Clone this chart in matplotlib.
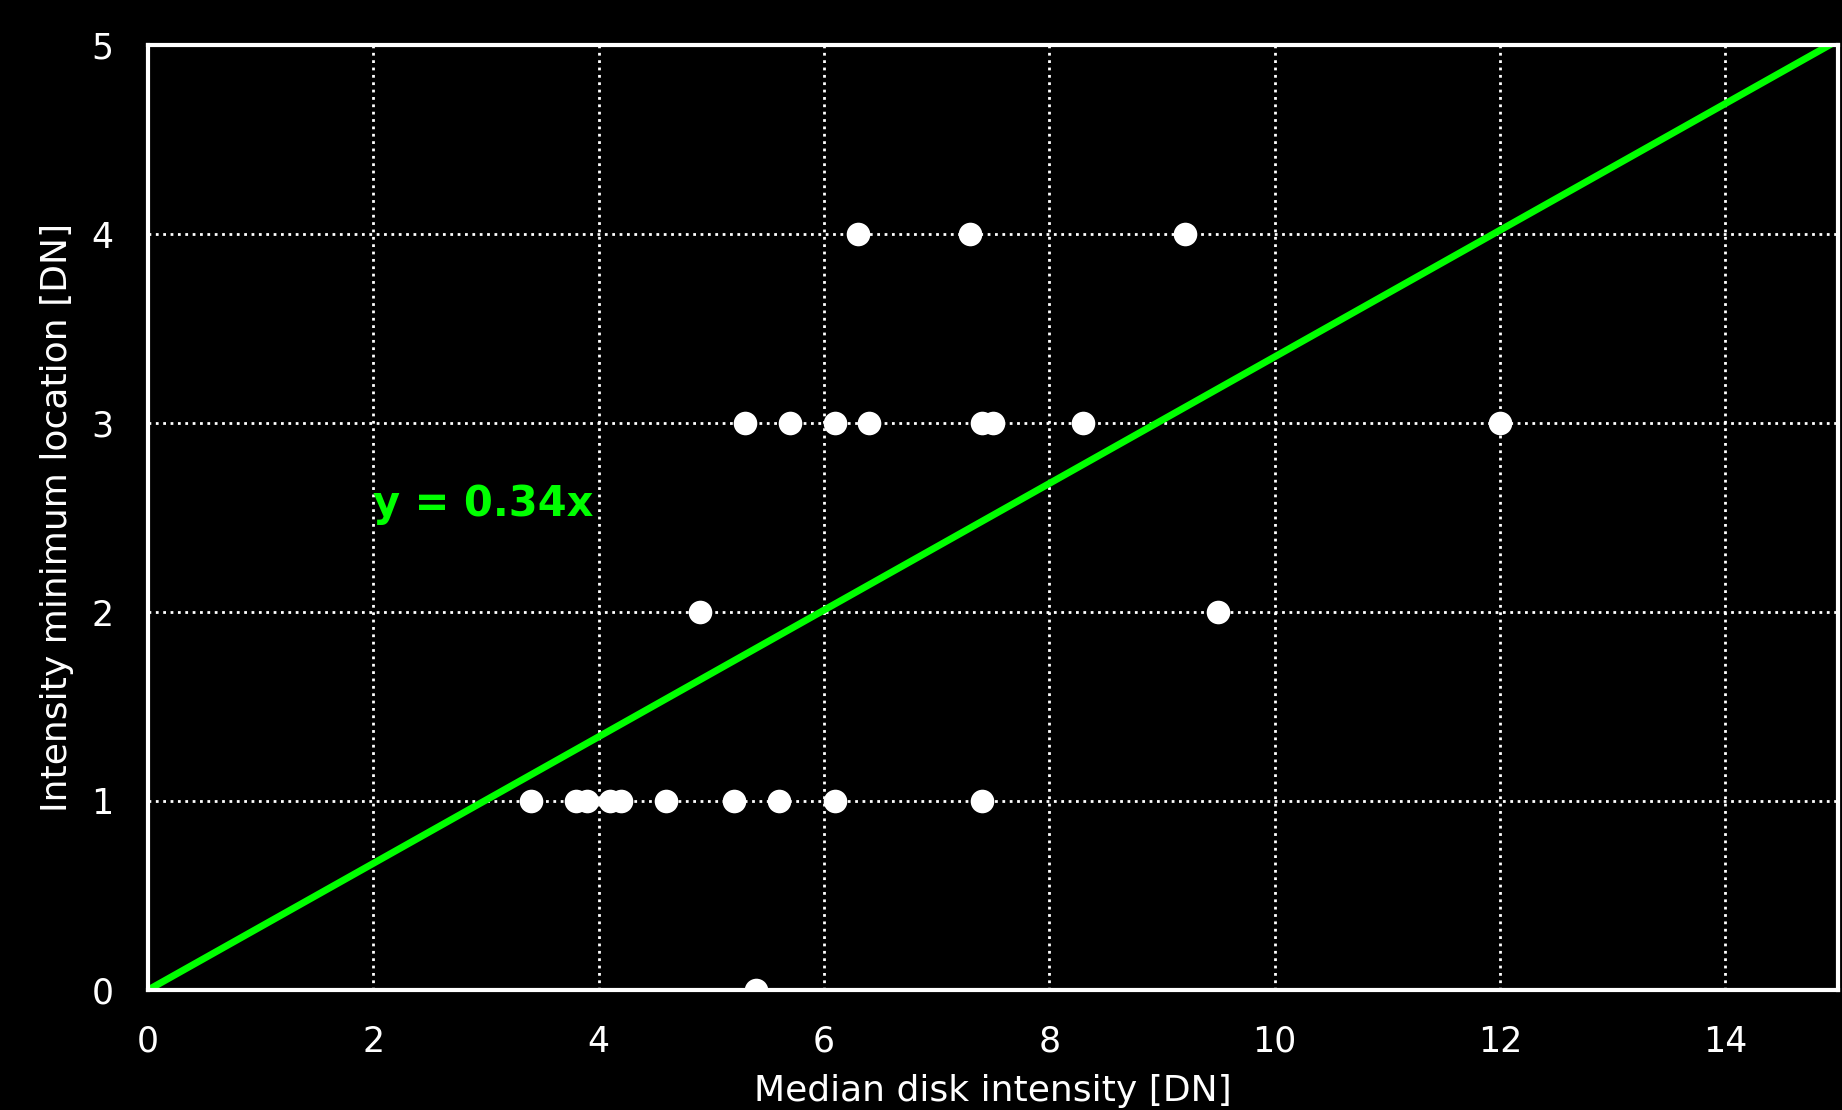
import numpy as np
import matplotlib
matplotlib.use("Agg")
import matplotlib.pyplot as plt

# median disk intensity vs intensity minimum location
x_vals = [3.4, 3.8, 3.9, 4.1, 4.2, 4.6, 5.2, 5.6, 6.1, 7.4,
          5.4,
          4.9, 9.5,
          5.3, 5.7, 6.1, 6.4, 7.4, 7.5, 8.3, 12.0,
          6.3, 7.3, 9.2]
y_vals = [1, 1, 1, 1, 1, 1, 1, 1, 1, 1,
          0,
          2, 2,
          3, 3, 3, 3, 3, 3, 3, 3,
          4, 4, 4]
slope = 0.335
fit_label = "y = 0.34x"

xticks = [0, 2, 4, 6, 8, 10, 12, 14]
yticks = [0, 1, 2, 3, 4, 5]

fig = plt.figure(figsize=(18.42, 11.10), dpi=100, facecolor="black")
ax = fig.add_axes([148 / 1842, 1 - 990 / 1110, (1838 - 148) / 1842, (990 - 45) / 1110])
ax.set_facecolor("black")

xx = np.array([0, 15])
ax.plot(xx, slope * xx, color="#00ff00", lw=5, zorder=3)
ax.plot(x_vals, y_vals, "o", color="white", ms=17, mec="none", zorder=4)

ax.text(2, 2.57, fit_label, color="#00ff00", fontsize=30, fontweight="bold",
        va="center", ha="left", zorder=5)

ax.set_xlim(0, 15)
ax.set_ylim(0, 5)
ax.set_xticks(xticks)
ax.set_yticks(yticks)
ax.grid(True, color="white", linestyle=":", lw=2)
ax.set_axisbelow(True)
ax.tick_params(colors="white", labelsize=25, length=0, pad=25)
for s in ax.spines.values():
    s.set_color("white")
    s.set_linewidth(3)
    s.set_zorder(6)

ax.set_xlabel("Median disk intensity [DN]", color="white", fontsize=26, labelpad=11)
ax.set_ylabel("Intensity minimum location [DN]", color="white", fontsize=26, labelpad=12)

fig.savefig("out.png", dpi=100, facecolor="black")
